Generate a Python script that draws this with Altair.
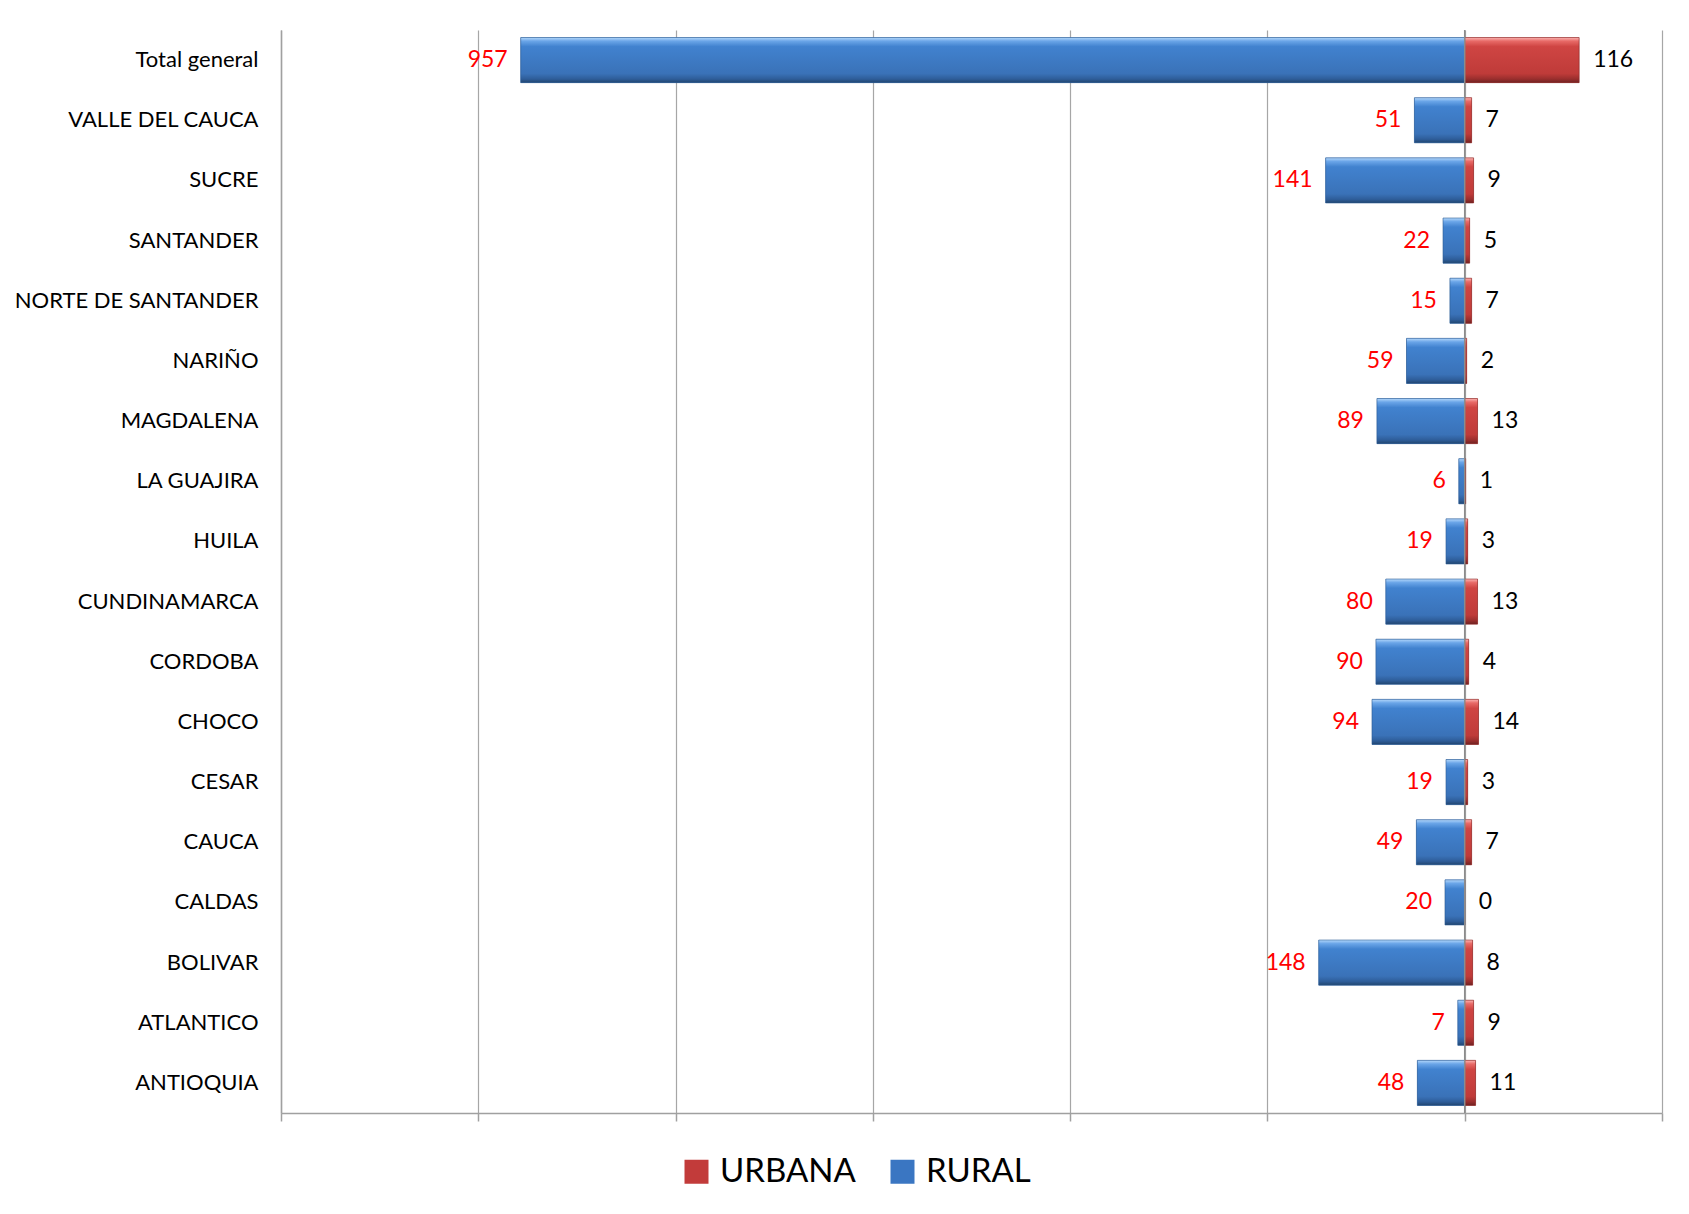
import altair as alt
import pandas as pd

departamentos = ["Total general", "VALLE DEL CAUCA", "SUCRE", "SANTANDER",
                 "NORTE DE SANTANDER", "NARIÑO", "MAGDALENA", "LA GUAJIRA",
                 "HUILA", "CUNDINAMARCA", "CORDOBA", "CHOCO", "CESAR",
                 "CAUCA", "CALDAS", "BOLIVAR", "ATLANTICO", "ANTIOQUIA"]
rural = [957, 51, 141, 22, 15, 59, 89, 6, 19, 80, 90, 94, 19, 49, 20, 148, 7, 48]
urbana = [116, 7, 9, 5, 7, 2, 13, 1, 3, 13, 4, 14, 3, 7, 0, 8, 9, 11]
grid_values = [-1200, -1000, -800, -600, -400, -200, 0, 200]

rows = []
for d, r, u in zip(departamentos, rural, urbana):
    rows.append({"dep": d, "serie": "RURAL", "valor": -r, "etiqueta": str(r)})
    rows.append({"dep": d, "serie": "URBANA", "valor": u, "etiqueta": str(u)})
df = pd.DataFrame(rows)

FONT = "Lato"
BLUE = "#3a76c2"
RED = "#c23b3a"

blue_grad = alt.LinearGradient(
    gradient="linear", x1=0, y1=0, x2=0, y2=1,
    stops=[alt.GradientStop(offset=0, color="#b5d8fb"),
           alt.GradientStop(offset=0.08, color="#6aa5e8"),
           alt.GradientStop(offset=0.2, color="#4182cf"),
           alt.GradientStop(offset=0.8, color="#3a72b8"),
           alt.GradientStop(offset=0.92, color="#2e5d99"),
           alt.GradientStop(offset=1, color="#22466f")])
red_grad = alt.LinearGradient(
    gradient="linear", x1=0, y1=0, x2=0, y2=1,
    stops=[alt.GradientStop(offset=0, color="#fbb5b3"),
           alt.GradientStop(offset=0.08, color="#e86a67"),
           alt.GradientStop(offset=0.2, color="#cf4543"),
           alt.GradientStop(offset=0.8, color="#bf3b39"),
           alt.GradientStop(offset=0.92, color="#992e2d"),
           alt.GradientStop(offset=1, color="#6f2222")])

y_enc = alt.Y("dep:N", sort=departamentos, title=None,
              scale=alt.Scale(paddingInner=0.25, paddingOuter=0.125),
              axis=alt.Axis(labelFont=FONT, labelFontSize=22, labelColor="#000000",
                            labelPadding=23, labelLimit=400, ticks=False, domain=True,
                            domainColor="#a0a0a0", domainWidth=1.5, grid=False))
x_enc = alt.X("valor:Q", title=None,
              scale=alt.Scale(domain=[-1200, 200], nice=False, zero=False),
              axis=alt.Axis(values=grid_values, labels=False, ticks=True, tickSize=8,
                            tickColor="#a0a0a0", tickWidth=1.5, domainColor="#a0a0a0",
                            domainWidth=1.5, grid=True, gridColor="#a6a6a6",
                            gridWidth=1.2, gridOpacity=1))

base = alt.Chart(df)

flat = base.mark_bar().encode(
    x=x_enc, y=y_enc,
    color=alt.Color("serie:N",
                    scale=alt.Scale(domain=["URBANA", "RURAL"], range=[RED, BLUE]),
                    legend=alt.Legend(title=None, orient="none", legendX=399, legendY=1125,
                                      direction="horizontal", symbolType="square",
                                      symbolSize=576, symbolStrokeWidth=0,
                                      labelFont=FONT, labelFontSize=33,
                                      labelColor="#000000", labelOffset=7,
                                      columnPadding=30, labelLimit=300)))

rural_bars = base.transform_filter(alt.datum.serie == "RURAL").mark_bar(
    color=blue_grad, stroke="#2b5a92", strokeWidth=0.6).encode(
    x="valor:Q", y=alt.Y("dep:N", sort=departamentos))
urb_bars = base.transform_filter(alt.datum.serie == "URBANA").mark_bar(
    color=red_grad, stroke="#8a2a29", strokeWidth=0.6).encode(
    x="valor:Q", y=alt.Y("dep:N", sort=departamentos))

zero_rule = alt.Chart(pd.DataFrame({"z": [0]})).mark_rule(
    color="#8c8c8c", strokeWidth=1.5).encode(x="z:Q")

rural_text = base.transform_filter(alt.datum.serie == "RURAL").mark_text(
    align="right", baseline="middle", dx=-13, font=FONT, fontSize=23, color="#ff0000"
).encode(x="valor:Q", y=alt.Y("dep:N", sort=departamentos), text="etiqueta:N")
urb_text = base.transform_filter(alt.datum.serie == "URBANA").mark_text(
    align="left", baseline="middle", dx=14, font=FONT, fontSize=23, color="#000000"
).encode(x="valor:Q", y=alt.Y("dep:N", sort=departamentos), text="etiqueta:N")

chart = alt.layer(flat, rural_bars, urb_bars, zero_rule, rural_text, urb_text).properties(
    width=1381, height=1083,
    autosize=alt.AutoSizeParams(type="none"),
    padding={"left": 273, "top": 22, "right": 19, "bottom": 100},
    background="#ffffff",
).configure_view(stroke=None)

chart.save("out.html", embed_options={"renderer": "svg", "actions": False})
